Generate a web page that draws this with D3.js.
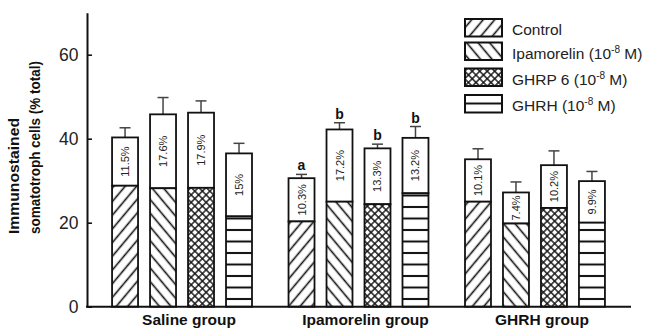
<!DOCTYPE html>
<html><head><meta charset="utf-8">
<script src="https://cdn.jsdelivr.net/npm/d3@7"></script>
<style>html,body{margin:0;padding:0;background:#fff;}svg{display:block;font-family:"Liberation Sans",Arial,sans-serif;}</style>
</head><body>
<svg id="chart" width="645" height="329"></svg>
<script>
// ---- data ----
const groups = ["Saline group", "Ipamorelin group", "GHRH group"];
const seriesNames = ["Control", "Ipamorelin", "GHRP 6", "GHRH"];
const legendMain = ["Control", "Ipamorelin (10", "GHRP 6 (10", "GHRH (10"];
const legendSup = ["", "-8", "-8", "-8"];
const legendTail = ["", " M)", " M)", " M)"];
// basal (hatched) part of each bar, per group
const baseValues = [
  [28.8, 28.2, 28.3, 21.5],
  [20.3, 25.0, 24.4, 27.0],
  [25.0, 19.8, 23.5, 20.0]
];
// increase (white part, labelled in %)
const increaseValues = [
  [11.5, 17.6, 17.9, 15],
  [10.3, 17.2, 13.3, 13.2],
  [10.1, 7.4, 10.2, 9.9]
];
const errorValues = [
  [2.3, 4.0, 2.8, 2.4],
  [0.9, 1.6, 1.0, 2.7],
  [2.5, 2.5, 3.4, 2.3]
];
const sigLetters = [
  ["", "", "", ""],
  ["a", "b", "b", "b"],
  ["", "", "", ""]
];
const yTicks = [0, 20, 40, 60];
const yTitle = ["Immunostained", "somatotroph cells (% total)"];

// ---- chart ----
const svg = d3.select("#chart");
const defs = svg.append("defs");
const x0 = 87, yBottom = 306.7, yTop = 12.7, xEnd = 631;

const y = d3.scaleLinear().domain([0, 70]).range([yBottom, yTop]);
const xg = d3.scaleBand().domain(groups).range([87, 630]).paddingInner(0.207).paddingOuter(0.142);
const xs = d3.scaleBand().domain(seriesNames).range([0, xg.bandwidth()]).paddingInner(0.316).paddingOuter(0);

// patterns
function linePattern(id, angle, period, sw) {
  const p = defs.append("pattern").attr("id", id).attr("patternUnits", "userSpaceOnUse")
    .attr("width", period).attr("height", period)
    .attr("patternTransform", `rotate(${angle})`);
  p.append("rect").attr("width", period).attr("height", period).attr("fill", "#fff");
  p.append("line").attr("x1", period / 2).attr("x2", period / 2).attr("y1", -1).attr("y2", period + 1)
    .attr("stroke", "#111").attr("stroke-width", sw);
}
linePattern("pat0", 40, 8.8, 1.6);
linePattern("pat1", -40, 8.8, 1.6);
(function () {
  const per = 5.3;
  const p = defs.append("pattern").attr("id", "pat2").attr("patternUnits", "userSpaceOnUse")
    .attr("width", per).attr("height", per).attr("patternTransform", "rotate(45)");
  p.append("rect").attr("width", per).attr("height", per).attr("fill", "#fff");
  p.append("line").attr("x1", per / 2).attr("x2", per / 2).attr("y1", -1).attr("y2", per + 1).attr("stroke", "#111").attr("stroke-width", 1.4);
  p.append("line").attr("y1", per / 2).attr("y2", per / 2).attr("x1", -1).attr("x2", per + 1).attr("stroke", "#111").attr("stroke-width", 1.4);
})();
(function () {
  const per = 11.5;
  const p = defs.append("pattern").attr("id", "pat3").attr("patternUnits", "userSpaceOnUse")
    .attr("width", 20).attr("height", per).attr("y", 299 - per / 2);
  p.append("rect").attr("width", 20).attr("height", per).attr("fill", "#fff");
  p.append("line").attr("x1", -1).attr("x2", 21).attr("y1", per / 2).attr("y2", per / 2).attr("stroke", "#111").attr("stroke-width", 2);
})();

// flatten data
const bars = [];
groups.forEach((g, gi) => seriesNames.forEach((s, si) => {
  bars.push({ g, s, si, base: baseValues[gi][si], inc: increaseValues[gi][si], err: errorValues[gi][si], sig: sigLetters[gi][si] });
}));

const barG = svg.append("g");
const bw = xs.bandwidth();
const bx = d => xg(d.g) + xs(d.s);

// error bars
barG.selectAll(".err").data(bars).join("g").each(function (d) {
  const cx = bx(d) + bw / 2;
  const top = y(d.base + d.inc), et = y(d.base + d.inc + d.err);
  const gg = d3.select(this);
  gg.append("line").attr("x1", cx).attr("x2", cx).attr("y1", top).attr("y2", et).attr("stroke", "#444").attr("stroke-width", 1.5);
  gg.append("line").attr("x1", cx - 5.5).attr("x2", cx + 5.5).attr("y1", et).attr("y2", et).attr("stroke", "#444").attr("stroke-width", 1.5);
  if (d.sig) gg.append("text").attr("x", cx).attr("y", et - 4).attr("text-anchor", "middle")
    .attr("font-size", 14).attr("font-weight", "bold").attr("fill", "#111").text(d.sig);
});

// white (increase) part
barG.selectAll(".inc").data(bars).join("rect")
  .attr("x", bx).attr("width", bw)
  .attr("y", d => y(d.base + d.inc)).attr("height", d => y(d.base) - y(d.base + d.inc))
  .attr("fill", "#fff").attr("stroke", "#111").attr("stroke-width", 1.8);
// hatched base part
barG.selectAll(".base").data(bars).join("rect")
  .attr("x", bx).attr("width", bw)
  .attr("y", d => y(d.base)).attr("height", d => y(0) - y(d.base))
  .attr("fill", d => `url(#pat${d.si})`).attr("stroke", "#111").attr("stroke-width", 1.8);

// percentage labels
barG.selectAll(".pct").data(bars).join("text")
  .attr("transform", d => `translate(${bx(d) + bw / 2},${(y(d.base) + y(d.base + d.inc)) / 2}) rotate(-90)`)
  .attr("text-anchor", "middle").attr("dominant-baseline", "central")
  .attr("font-size", 11).attr("fill", "#222")
  .text(d => d.inc + "%");

// axes
const yAxis = d3.axisLeft(y).tickValues(yTicks).tickSizeInner(-5).tickSizeOuter(0).tickPadding(8.5);
const ya = svg.append("g").attr("transform", `translate(${x0},0)`).call(yAxis);
ya.select(".domain").attr("stroke", "#111").attr("stroke-width", 2);
ya.selectAll(".tick line").attr("stroke", "#111").attr("stroke-width", 1.6);
ya.selectAll(".tick text").attr("font-size", 17.5).attr("fill", "#222").attr("font-family", "Liberation Sans, Arial, sans-serif");

svg.append("line").attr("x1", x0 - 1).attr("x2", xEnd).attr("y1", yBottom).attr("y2", yBottom)
  .attr("stroke", "#111").attr("stroke-width", 2);

// group labels
svg.append("g").selectAll("text").data(groups).join("text")
  .attr("x", d => xg(d) + xg.bandwidth() / 2 + 7).attr("y", 325)
  .attr("text-anchor", "middle").attr("font-size", 15.5).attr("font-weight", "bold").attr("fill", "#111")
  .text(d => d);

// y title
const titleX = [18.5, 40], titleLen = [116, 173];
svg.append("g").selectAll("text").data(yTitle).join("text")
  .attr("transform", (d, i) => `translate(${titleX[i]},234) rotate(-90)`)
  .attr("text-anchor", "start").attr("font-size", 15.5).attr("font-weight", "bold").attr("fill", "#111")
  .attr("textLength", (d, i) => titleLen[i]).attr("lengthAdjust", "spacingAndGlyphs")
  .text(d => d);

// legend
const lg = svg.append("g");
const legY = [19, 42.5, 68.5, 95];
seriesNames.forEach((s, i) => {
  lg.append("rect").attr("x", 465).attr("y", legY[i]).attr("width", 37).attr("height", 17.5)
    .attr("fill", `url(#pat${i})`).attr("stroke", "#111").attr("stroke-width", 2);
  const t = lg.append("text").attr("x", 512).attr("y", legY[i] + 16).attr("font-size", 15.5).attr("fill", "#222");
  t.append("tspan").text(legendMain[i]);
  if (legendSup[i]) {
    t.append("tspan").attr("dy", -6).attr("font-size", 10).text(legendSup[i]);
    t.append("tspan").attr("dy", 6).text(legendTail[i]);
  }
});
</script>
</body></html>
